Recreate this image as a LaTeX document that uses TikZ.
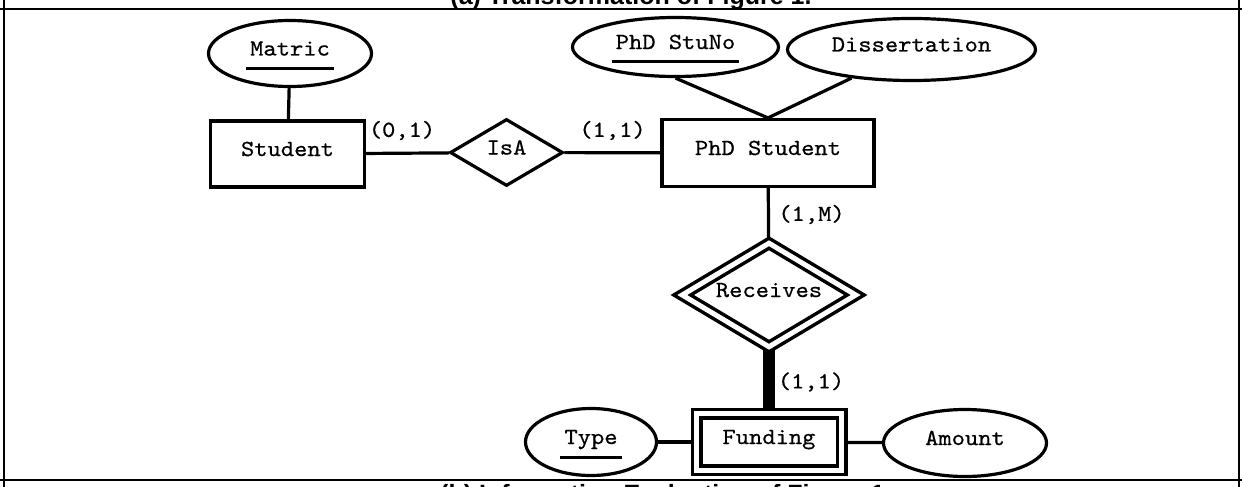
\documentclass[tikz,border=0pt]{standalone}
\usepackage{fontspec}
\setmainfont{Liberation Sans}
\newfontfamily\ermono{lmmono10-regular.otf}[FakeStretch=1.1,FakeBold=0.6]
\usetikzlibrary{shapes.geometric,backgrounds}
\newlength\ulw
\newcommand\ulkey[1]{\settowidth{\ulw}{#1}#1\llap{\smash{\rule[-14.5pt]{\dimexpr\ulw+8pt\relax}{3pt}}\hspace{-4pt}}}
\begin{document}
\begin{tikzpicture}[x=1pt,y=-1pt,
  every node/.style={font=\ermono\fontsize{23}{26}\selectfont},
  shp/.style={draw, line width=3.2pt, fill=white, inner sep=0pt, text height=14pt, text depth=10pt},
  ent/.style={shp, rectangle},
  attr/.style={shp, ellipse},
  rel/.style={shp, diamond},
  dbl/.style={line width=3.5pt, double=white, double distance=5pt},
  conn/.style={line width=3.2pt},
  heavy/.style={line width=12pt},
  card/.style={inner sep=0pt},
  ttl/.style={font=\bfseries\fontsize{25}{30}\selectfont, inner sep=0pt},
  rulel/.style={line width=2.5pt}
]
\useasboundingbox (0,0) rectangle (1242,487);
\clip (0,0) rectangle (1242,487);

% frame
\draw[rulel] (0,9) -- (1242,9);
\draw[rulel] (0,480) -- (1242,480);
\draw[rulel] (4,0) -- (4,487);
\draw[rulel] (1239,0) -- (1239,487);

% titles
\node[ttl, anchor=base] (ttla) at (631,5) {(a) Transformation of Figure 1.};
\node[ttl, anchor=base west] (ttlb) at (440,502) {(b) Information Evaluation of Figure 1.};

% nodes
\node[attr, minimum width=163pt, minimum height=66pt] (matric) at (290,53.5) {\ulkey{Matric}};
\node[ent, minimum width=154pt, minimum height=66pt] (student) at (287.5,154) {Student};
\node[rel, aspect=1.69, minimum width=113pt, minimum height=67pt] (isa) at (506.5,152.5) {IsA};
\node[ent, minimum width=212pt, minimum height=67pt] (phd) at (768,153) {PhD Student};
\node[attr, minimum width=206pt, minimum height=59pt] (phdno) at (675.5,47) {\ulkey{PhD StuNo}};
\node[attr, minimum width=248pt, minimum height=62pt] (diss) at (911.5,49.5) {Dissertation};
\node[rel, dbl, aspect=1.67, minimum width=175pt, minimum height=105pt] (rec) at (769,295) {Receives};
\node[ent, dbl, minimum width=145pt, minimum height=56.7pt] (fund) at (769,442) {Funding};
\node[attr, minimum width=131pt, minimum height=67pt] (type) at (591,442) {\ulkey{Type}};
\node[attr, minimum width=163pt, minimum height=67pt] (amount) at (965,443) {Amount};

% cardinalities
\node[card] (c01) at (402,130.5) {(0,1)};
\node[card] (c11a) at (612.5,130.5) {(1,1)};
\node[card] (c1m) at (811.5,214.5) {(1,M)};
\node[card] (c11b) at (811,382) {(1,1)};

% connectors
\begin{pgfonlayer}{background}
\draw[conn] (matric) -- (student);
\draw[conn] (student) -- (isa);
\draw[conn] (isa) -- (phd);
\draw[conn] (phdno.south) -- (phd.north);
\draw[conn] (diss) -- (phd.north);
\draw[conn] (phd) -- (rec);
\draw[heavy] (rec) -- (fund);
\draw[conn] (type) -- (fund);
\draw[conn] (fund) -- (amount);
\end{pgfonlayer}
\end{tikzpicture}
\end{document}
